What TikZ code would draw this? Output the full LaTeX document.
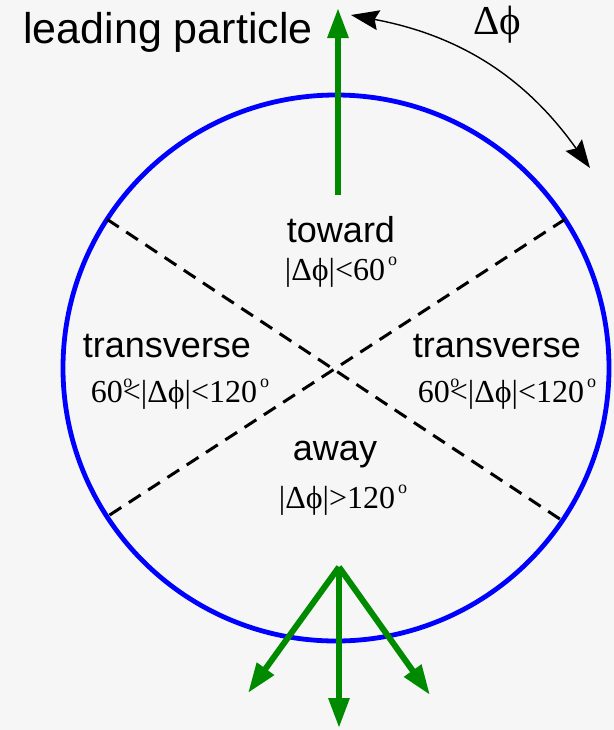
\documentclass[tikz,border=0pt]{standalone}
\usepackage{fontspec}
\setmainfont{Liberation Serif}
\newfontfamily\arialfont{Liberation Sans}
\usepackage{xcolor}
\usepackage{tikz}
\usetikzlibrary{arrows.meta,positioning,calc}

\definecolor{ringblue}{RGB}{0,0,255}
\definecolor{jetgreen}{RGB}{0,138,0}
\definecolor{paper}{RGB}{246,246,246}

\newcommand{\dg}{\kern1.5pt\raisebox{7.5pt}{\fontsize{9}{9}\selectfont o}}
\newcommand{\dglap}{\rlap{\kern0.3pt\raisebox{7.5pt}{\fontsize{9}{9}\selectfont o}}}
\newcommand{\dphi}{|Δϕ|}

\begin{document}
\begin{tikzpicture}[
    x=0.5pt, y=-0.5pt,
    ring/.style={
        circle,
        draw=ringblue,
        line width=2.4pt,
        minimum size=273pt,
        inner sep=0pt,
        outer sep=0pt
    },
    region/.style={font=\arialfont\fontsize{18}{20}\selectfont, anchor=base, inner sep=0pt},
    cutlabel/.style={font=\fontsize{16}{18}\selectfont, anchor=base, inner sep=0pt},
    jet/.style={-{Triangle[length=15pt,width=10pt]}, draw=jetgreen, line width=3pt},
    border/.style={dash pattern=on 7pt off 4.5pt, line width=1.5pt},
    dphiarc/.style={{Stealth[length=14pt,width=10pt,inset=2pt]}-{Stealth[length=14pt,width=10pt,inset=2pt]}, line width=0.7pt}
]

% =========================================
% Background
% =========================================
\fill[paper] (0,0) rectangle (614,730);
\useasboundingbox (0,0) rectangle (614,730);

% =========================================
% Azimuthal circle and region borders
% =========================================
\node[ring] (ring) at (336,368) {};

\draw[border] (ring.147) -- (ring.-34);
\draw[border] (ring.33) -- (ring.213);

% =========================================
% Leading particle (top)
% =========================================
\coordinate (leadbase) at (338,195);
\coordinate (leadtip) at (338,8);
\draw[jet] (leadbase) -- (leadtip);

\node[font=\arialfont\fontsize{21.5}{24}\selectfont, anchor=base west, inner sep=0pt]
    (leading) at (23,43) {leading particle};

% Delta phi arc
\coordinate (arcstart) at (351,15);
\coordinate (arcend) at (590,168);
\draw[dphiarc] (arcstart) to[bend left=22] (arcend);
\node[font=\fontsize{20.5}{22}\selectfont, anchor=base west, inner sep=0pt]
    (dphilabel) at (473,34) {Δϕ};

% =========================================
% Region labels
% =========================================
\node[region] (toward) at (341,242) {toward};
\node[cutlabel] (towardcut) at (341,280) {\dphi<60\dg};

\node[region] (transleft) at (167,357) {transverse};
\node[cutlabel] (transleftcut) at (180,402) {60\dglap<\dphi<120\dg};

\node[region] (transright) at (497,357) {transverse};
\node[cutlabel] (transrightcut) at (507,402) {60\dglap<\dphi<120\dg};

\node[region] (away) at (335,460) {away};
\node[cutlabel] (awaycut) at (343,508) {\dphi>120\dg};

% =========================================
% Away-side jet (bottom)
% =========================================
\coordinate (jetbase) at (339,567);
\coordinate (jetleft) at (248,693);
\coordinate (jetmid) at (339,728);
\coordinate (jetright) at (430,695);
\draw[jet] (jetbase) -- (jetleft);
\draw[jet] (jetbase) -- (jetmid);
\draw[jet] (jetbase) -- (jetright);

\end{tikzpicture}
\end{document}
